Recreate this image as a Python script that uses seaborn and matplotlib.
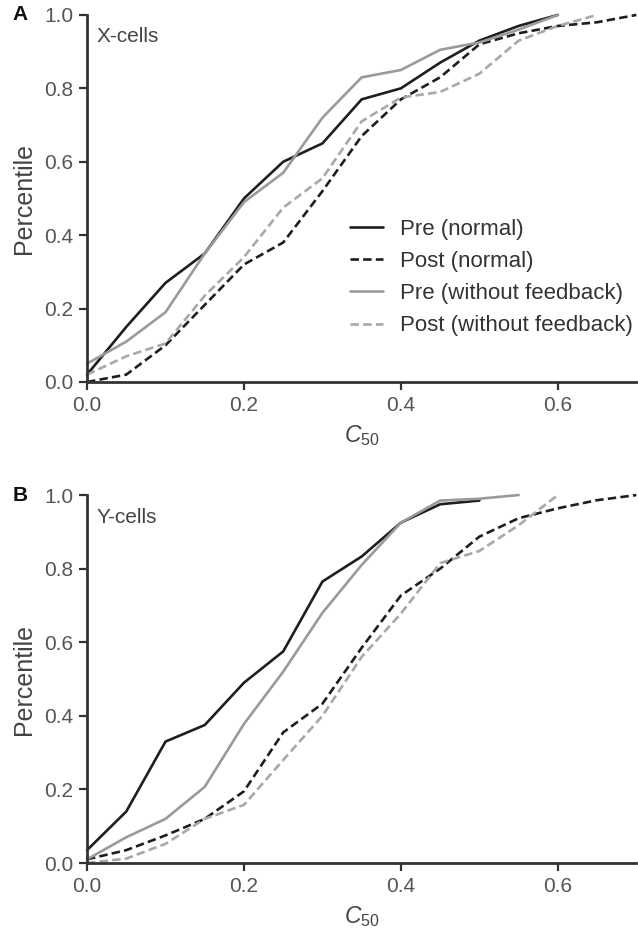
import numpy as np
import pandas as pd
import matplotlib
matplotlib.use("Agg")
import matplotlib.pyplot as plt
import seaborn as sns

# ---------------- data ----------------
series_names = ["Pre (normal)", "Post (normal)", "Pre (without feedback)", "Post (without feedback)"]

# Panel A: X-cells
xa_pre_n = [0.0, 0.05, 0.10, 0.15, 0.20, 0.25, 0.30, 0.35, 0.40, 0.45, 0.50, 0.55, 0.60]
ya_pre_n = [0.02, 0.15, 0.27, 0.35, 0.50, 0.60, 0.65, 0.77, 0.80, 0.87, 0.93, 0.97, 1.00]
xa_post_n = [0.0, 0.05, 0.10, 0.15, 0.20, 0.25, 0.30, 0.35, 0.40, 0.45, 0.50, 0.55, 0.60, 0.65, 0.70]
ya_post_n = [0.00, 0.02, 0.10, 0.21, 0.32, 0.38, 0.52, 0.67, 0.77, 0.83, 0.92, 0.95, 0.97, 0.98, 1.00]
xa_pre_f = [0.0, 0.05, 0.10, 0.15, 0.20, 0.25, 0.30, 0.35, 0.40, 0.45, 0.50, 0.55, 0.60]
ya_pre_f = [0.05, 0.11, 0.19, 0.35, 0.49, 0.57, 0.72, 0.83, 0.85, 0.905, 0.925, 0.96, 1.00]
xa_post_f = [0.0, 0.05, 0.10, 0.15, 0.20, 0.25, 0.30, 0.35, 0.40, 0.45, 0.50, 0.55, 0.60, 0.65]
ya_post_f = [0.02, 0.07, 0.105, 0.235, 0.34, 0.475, 0.555, 0.71, 0.775, 0.79, 0.84, 0.93, 0.97, 1.00]

# Panel B: Y-cells
xb_pre_n = [0.0, 0.05, 0.10, 0.15, 0.20, 0.25, 0.30, 0.35, 0.40, 0.45, 0.50]
yb_pre_n = [0.035, 0.14, 0.33, 0.375, 0.49, 0.575, 0.765, 0.833, 0.925, 0.975, 0.985]
xb_post_n = [0.0, 0.05, 0.10, 0.15, 0.20, 0.25, 0.30, 0.35, 0.40, 0.45, 0.50, 0.55, 0.60, 0.65, 0.70]
yb_post_n = [0.01, 0.035, 0.075, 0.12, 0.195, 0.355, 0.433, 0.585, 0.727, 0.80, 0.887, 0.937, 0.964, 0.986, 1.00]
xb_pre_f = [0.0, 0.05, 0.10, 0.15, 0.20, 0.25, 0.30, 0.35, 0.40, 0.45, 0.50, 0.55]
yb_pre_f = [0.01, 0.07, 0.12, 0.207, 0.378, 0.52, 0.68, 0.81, 0.925, 0.985, 0.99, 1.00]
xb_post_f = [0.0, 0.05, 0.10, 0.15, 0.20, 0.25, 0.30, 0.35, 0.40, 0.45, 0.50, 0.55, 0.60]
yb_post_f = [0.0, 0.012, 0.052, 0.12, 0.158, 0.28, 0.40, 0.56, 0.678, 0.815, 0.848, 0.918, 1.00]

x_ticks = [0.0, 0.2, 0.4, 0.6]
y_ticks = [0.0, 0.2, 0.4, 0.6, 0.8, 1.0]
tick_labels_x = ["0.0", "0.2", "0.4", "0.6"]
tick_labels_y = ["0.0", "0.2", "0.4", "0.6", "0.8", "1.0"]


def make_df(xs, ys):
    frames = []
    for name, x, y in zip(series_names, xs, ys):
        frames.append(pd.DataFrame({"C50": x, "Percentile": y, "series": name}))
    return pd.concat(frames, ignore_index=True)


df_a = make_df([xa_pre_n, xa_post_n, xa_pre_f, xa_post_f], [ya_pre_n, ya_post_n, ya_pre_f, ya_post_f])
df_b = make_df([xb_pre_n, xb_post_n, xb_pre_f, xb_post_f], [yb_pre_n, yb_post_n, yb_pre_f, yb_post_f])

# ---------------- style ----------------
sns.set_theme(style="ticks")
plt.rcParams["font.family"] = ["Liberation Sans", "DejaVu Sans"]
plt.rcParams["mathtext.fontset"] = "custom"
plt.rcParams["mathtext.it"] = "Liberation Sans:italic"
plt.rcParams["mathtext.rm"] = "Liberation Sans"

palette = {
    "Pre (normal)": "#1e1e1e",
    "Post (normal)": "#1e1e1e",
    "Pre (without feedback)": "#9a9a9a",
    "Post (without feedback)": "#a8a8a8",
}
dashes = {
    "Pre (normal)": "",
    "Post (normal)": (3.2, 1.6),
    "Pre (without feedback)": "",
    "Post (without feedback)": (3.2, 1.6),
}

fig = plt.figure(figsize=(6.38, 9.33), dpi=100)
ax_a = fig.add_axes([0.1364, 0.5906, 0.861, 0.3934])
ax_b = fig.add_axes([0.1364, 0.0750, 0.861, 0.3944])

spine_col = "#333333"
tick_col = "#555555"

for ax, df, label, letter in [(ax_a, df_a, "X-cells", "A"), (ax_b, df_b, "Y-cells", "B")]:
    sns.lineplot(data=df, x="C50", y="Percentile", hue="series", style="series",
                 palette=palette, dashes=dashes, hue_order=series_names,
                 style_order=series_names, sort=False, estimator=None,
                 linewidth=1.9, ax=ax, legend=(ax is ax_a))
    for ln in ax.lines:
        ln.set_clip_on(False)
    ax.set_xlim(0, 0.7)
    ax.set_ylim(0, 1.0)
    ax.set_xticks(x_ticks)
    ax.set_xticklabels(tick_labels_x)
    ax.set_yticks(y_ticks)
    ax.set_yticklabels(tick_labels_y)
    sns.despine(ax=ax)
    for s in ["left", "bottom"]:
        ax.spines[s].set_linewidth(2.0)
        ax.spines[s].set_color(spine_col)
    ax.tick_params(axis="both", length=6, width=1.6, color=spine_col,
                   labelsize=15, labelcolor=tick_col, pad=4)
    ax.set_xlabel(r"$C_{50}$", fontsize=16.5, color="#444444", labelpad=6)
    ax.set_ylabel("Percentile", fontsize=18, color="#444444", labelpad=6)
    ax.text(0.018, 0.94, label, transform=ax.transAxes, fontsize=15,
            color="#444444", ha="left", va="center")
    ax.text(-0.135, 1.0, letter, transform=ax.transAxes, fontsize=15,
            fontweight="bold", color="#111111", ha="left", va="center")
    ax.set_facecolor("white")

leg = ax_a.legend(loc="lower right", bbox_to_anchor=(1.01, 0.1), frameon=False,
                  fontsize=16, handlelength=1.5, handletextpad=0.75,
                  labelspacing=0.5, borderaxespad=0.0)
for t in leg.get_texts():
    t.set_color("#333333")
for h in leg.get_lines():
    h.set_linewidth(1.9)

fig.savefig("out.png", dpi=100, facecolor="white")
